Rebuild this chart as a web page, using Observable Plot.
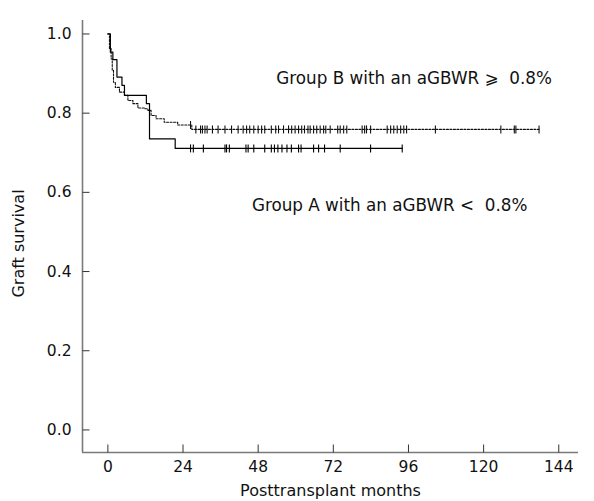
<!DOCTYPE html>
<html><head><meta charset="utf-8">
<script src="https://cdn.jsdelivr.net/npm/d3@7"></script>
<script src="https://cdn.jsdelivr.net/npm/@observablehq/plot@0.6"></script>
<style>body{margin:0;background:#fff}</style>
</head><body><div id="chart"></div>
<script>
// Group A (aGBWR < 0.8%), solid line: event times (months) and survival after each event
const groupATime = [0, 0.8, 1.6, 2.9, 4.5, 5.3, 12.3, 13.3, 21.5];
const groupASurv = [1.0, 0.954, 0.935, 0.891, 0.870, 0.845, 0.824, 0.735, 0.711];
const groupACensor = [26.4, 27.3, 30.5, 37.4, 37.9, 38.8, 44.1, 44.8, 46.6, 50.1, 52.2, 53.2, 54.3, 55.6, 57.2, 58.6, 60.9, 61.7, 65.7, 67.3, 69.2, 74.2, 83.9, 94.0];

// Group B (aGBWR >= 0.8%), dashed line
const groupBTime = [0, 0.5, 1.05, 1.4, 1.8, 2.4, 3.7, 5.3, 6.4, 8.0, 9.6, 11.7, 12.8, 13.8, 15.4, 18.0, 22.3, 26.8];
const groupBSurv = [1.0, 0.963, 0.937, 0.908, 0.878, 0.865, 0.853, 0.845, 0.832, 0.824, 0.813, 0.811, 0.807, 0.794, 0.786, 0.777, 0.770, 0.759];
const groupBCensor = [26.4, 28.1, 29.6, 30.2, 31.0, 31.7, 33.4, 35.2, 37.4, 39.5, 41.6, 43.2, 44.3, 45.3, 46.6, 48.0, 49.1, 50.1, 52.2, 53.6, 54.5, 56.1, 57.7, 58.7, 59.8, 60.9, 61.9, 62.8, 63.9, 64.6, 65.7, 66.7, 67.8, 68.9, 69.6, 71.0, 73.4, 74.2, 75.3, 76.3, 81.2, 82.0, 82.6, 83.9, 89.2, 90.3, 91.3, 92.4, 93.5, 94.5, 95.4, 104.6, 125.5, 129.8, 130.3, 137.7];

const xTicks = [0, 24, 48, 72, 96, 120, 144];
const yTicks = [0.0, 0.2, 0.4, 0.6, 0.8, 1.0];
const labelA = "Group A with an aGBWR <\u00a0\u00a00.8%";
const labelB = "Group B with an aGBWR \u2A7E\u00a0\u00a00.8%";
const xLabel = "Posttransplant months";
const yLabel = "Graft survival";

function stepAt(times, surv, t) {
  let s = surv[0];
  for (let i = 0; i < times.length; i++) if (times[i] <= t) s = surv[i];
  return s;
}
function curve(times, surv, censor) {
  const pts = times.map((t, i) => ({t, s: surv[i]}));
  const end = d3.max(censor);
  pts.push({t: end, s: stepAt(times, surv, end)});
  return pts;
}
const lineA = curve(groupATime, groupASurv, groupACensor);
const lineB = curve(groupBTime, groupBSurv, groupBCensor);
const censA = groupACensor.map(t => ({t, s: stepAt(groupATime, groupASurv, t)}));
const censB = groupBCensor.map(t => ({t, s: stepAt(groupBTime, groupBSurv, t)}));

const censorSym = {draw(ctx) { ctx.moveTo(0, -4); ctx.lineTo(0, 4); }};
const yTickSym = {draw(ctx) { ctx.moveTo(0, 0); ctx.lineTo(7, 0); }};
const xTickSym = {draw(ctx) { ctx.moveTo(0, 0); ctx.lineTo(0, -8); }};

const xMin = -8.1, xMax = 150.3, yMin = -0.057, yMax = 1.034;

const chart = Plot.plot({
  width: 594,
  height: 501,
  marginLeft: 82,
  marginRight: 16,
  marginTop: 20,
  marginBottom: 49,
  style: {fontFamily: "DejaVu Sans, sans-serif", fontSize: "15.5px", color: "#111", background: "#fff"},
  x: {domain: [xMin, xMax]},
  y: {domain: [yMin, yMax]},
  marks: [
    Plot.ruleX([xMin], {stroke: "#7a7a7a", strokeWidth: 1.6}),
    Plot.ruleY([yMin], {stroke: "#7a7a7a", strokeWidth: 1.6}),
    Plot.dot(yTicks, {y: d => d, frameAnchor: "left", symbol: yTickSym, stroke: "#333", fill: "none", strokeWidth: 1}),
    Plot.dot(xTicks, {x: d => d, frameAnchor: "bottom", symbol: xTickSym, stroke: "#333", fill: "none", strokeWidth: 1}),
    Plot.axisY({ticks: yTicks, tickFormat: d3.format(".1f"), tickSize: 0, tickPadding: 11, label: null}),
    Plot.axisX({ticks: xTicks, tickSize: 0, tickPadding: 8, label: null}),
    Plot.line(lineB, {x: "t", y: "s", curve: "step-after", stroke: "#111", strokeWidth: 1.1, strokeDasharray: "2,1.5"}),
    Plot.line(lineA, {x: "t", y: "s", curve: "step-after", stroke: "#000", strokeWidth: 1.2}),
    Plot.dot(censB, {x: "t", y: "s", symbol: censorSym, stroke: "#111", fill: "none", strokeWidth: 1.1}),
    Plot.dot(censA, {x: "t", y: "s", symbol: censorSym, stroke: "#000", fill: "none", strokeWidth: 1.1}),
    Plot.text([labelB], {x: 97.8, y: 0.8875, text: d => d, fill: "#111", fontSize: 16.8}),
    Plot.text([labelA], {x: 90.0, y: 0.566, text: d => d, fill: "#111", fontSize: 16.8}),
    Plot.text([xLabel], {frameAnchor: "bottom", textAnchor: "middle", dy: 43, text: d => d, fill: "#111", fontSize: 16}),
    Plot.text([yLabel], {frameAnchor: "left", textAnchor: "middle", rotate: -90, dx: -64, dy: 7, text: d => d, fill: "#111", fontSize: 16})
  ]
});
document.getElementById("chart").appendChild(chart);
</script>
</body></html>
